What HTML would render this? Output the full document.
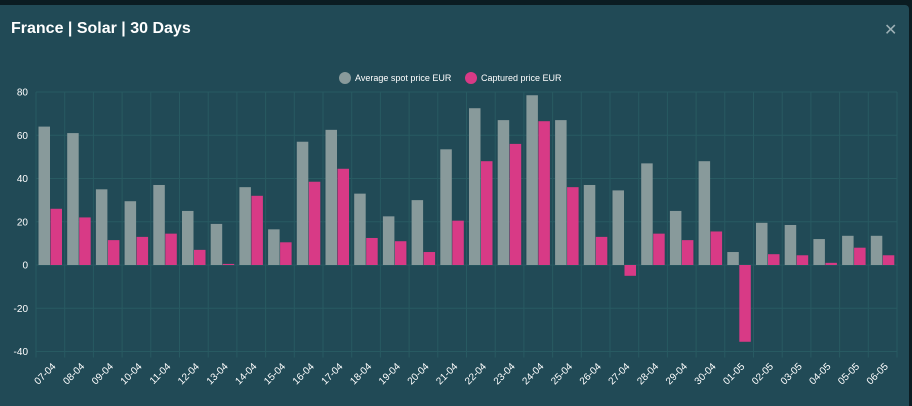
<!DOCTYPE html>
<html><head><meta charset="utf-8"><style>
body{margin:0;width:912px;height:406px;background:#0b1c22;overflow:hidden;font-family:"Liberation Sans",sans-serif}
#panel{position:absolute;left:0;top:5px;width:909px;height:401px;background:#214a56;border-radius:0 4px 0 0}
#title{position:absolute;left:11px;top:20px;color:#fff;font-weight:bold;font-size:16px}
#close{position:absolute;left:884px;top:20px;color:#9db0b5;font-size:16px;font-weight:300}
svg{position:absolute;left:0;top:0}
</style></head><body>
<div id="panel"></div>
<div id="title">France | Solar | 30 Days</div>
<div id="close">✕</div>
<svg id="chart" width="912" height="406"></svg>
<script>
const categories=["07-04","08-04","09-04","10-04","11-04","12-04","13-04","14-04","15-04","16-04","17-04","18-04","19-04","20-04","21-04","22-04","23-04","24-04","25-04","26-04","27-04","28-04","29-04","30-04","01-05","02-05","03-05","04-05","05-05","06-05"];
const spotValues=[64,61,35,29.5,37,25,19,36,16.5,57,62.5,33,22.5,30,53.5,72.5,67,78.5,67,37,34.5,47,25,48,6,19.5,18.5,12,13.5,13.5];
const capturedValues=[26,22,11.5,13,14.5,7,0.5,32,10.5,38.5,44.5,12.5,11,6,20.5,48,56,66.5,36,13,-5,14.5,11.5,15.5,-35.5,5,4.5,1,8,4.5];
const yTicks=[80,60,40,20,0,-20,-40];
const NS="http://www.w3.org/2000/svg";
const svg=document.getElementById('chart');
const X0=36,X1=897,Y80=92,Y0=265;
const bw=(X1-X0)/categories.length;
function y(v){return Y0-(v)*(Y0-Y80)/80;}
function x(i){return X0+i*bw;}
function mk(t,a,p){const e=document.createElementNS(NS,t);for(const k in a)e.setAttribute(k,a[k]);(p||svg).appendChild(e);return e;}
yTicks.forEach(t=>{
 const l=mk('line',{x1:X0,x2:X1,y1:y(t),y2:y(t),stroke:'#285a62','stroke-width':1});
 
 
 const tx=mk('text',{x:28,y:y(t)+3.5,fill:'#fff','font-size':10,'text-anchor':'end'});
 tx.textContent=t;
 
 
});
for(let i=0;i<=categories.length;i++){
 const l=mk('line',{x1:x(i),x2:x(i),y1:Y80,y2:y(-40)+6,stroke:'#285a62','stroke-width':1});
 
 
}
categories.forEach((c,i)=>{
 const g=spotValues[i],p=capturedValues[i];
 const b1=mk('rect',{x:x(i)+2.5,y:Math.min(y(g),Y0),width:11.5,height:Math.abs(y(g)-Y0),fill:'#889a9b'});
 
 
 const b2=mk('rect',{x:x(i)+14.5,y:Math.min(y(p),Y0),width:11.5,height:Math.max(1,Math.abs(y(p)-Y0)),fill:'#d83a86'});
 
 
 const cx=x(i)+bw/2+6,cy=367;
 const t=mk('text',{x:cx,y:cy,fill:'#fff','font-size':10,'text-anchor':'end',transform:`rotate(-45 ${cx} ${cy})`});
 t.textContent=c;
 
 
});
const lg=[[345,'#889a9b','Average spot price EUR'],[471,'#d83a86','Captured price EUR']];
lg.forEach(([lx,col,txt])=>{
 const g=mk('g',{});
 
 
 mk('circle',{cx:lx,cy:78,r:6,fill:col},g);
 const t=mk('text',{x:lx+10,y:81,fill:'#fff','font-size':9},g);t.textContent=txt;
});
</script>
</body></html>
